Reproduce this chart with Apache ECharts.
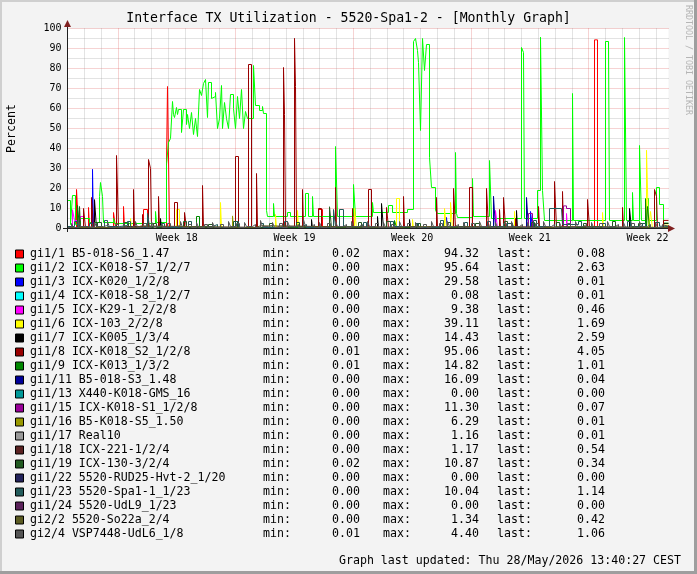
<!DOCTYPE html>
<html>
<head>
<meta charset="utf-8">
<script src="https://cdn.jsdelivr.net/npm/echarts@6/dist/echarts.min.js"></script>
<style>
  html, body { margin: 0; padding: 0; background: #f3f3f3; }
  #chart { width: 697px; height: 574px; }
</style>
</head>
<body>
<div id="chart"></div>
<script>
// x is the RRD step index of the monthly archive: 601 steps over 35.75 days
const totalSteps = 601
const totalDays = 35.75
const weekLines = [3, 10, 17, 24, 31]            // day index of each Monday
const weekLabels = { 13: 'Week 18', 27: 'Week 19', 41: 'Week 20', 55: 'Week 21', 69: 'Week 22' } // half-day index

const names = [
  'gi1/1 B5-018-S6_1.47', 'gi1/2 ICX-K018-S7_1/2/7', 'gi1/3 ICX-K020_1/2/8',
  'gi1/4 ICX-K018-S8_1/2/7', 'gi1/5 ICX-K29-1_2/2/8', 'gi1/6 ICX-103_2/2/8',
  'gi1/7 ICX-K005_1/3/4', 'gi1/8 ICX-K018_S2_1/2/8', 'gi1/9 ICX-K013_1/3/2',
  'gi1/11 B5-018-S3_1.48', 'gi1/13 X440-K018-GMS_16', 'gi1/15 ICX-K018-S1_1/2/8',
  'gi1/16 B5-K018-S5_1.50', 'gi1/17 Real10', 'gi1/18 ICX-221-1/2/4',
  'gi1/19 ICX-130-3/2/4', 'gi1/22 5520-RUD25-Hvt-2_1/20', 'gi1/23 5520-Spa1-1_1/23',
  'gi1/24 5520-UdL9_1/23', 'gi2/2 5520-So22a_2/4', 'gi2/4 VSP7448-UdL6_1/8'
]
const colors = [
  '#ff0000', '#00ff00', '#0000ff', '#00ffff', '#ff00ff', '#ffff00', '#000000',
  '#990000', '#008800', '#000099', '#009999', '#990099', '#999900', '#999999',
  '#5b2222', '#225b22', '#22225b', '#225b5b', '#5b225b', '#5b5b22', '#555555'
]
const minVals = [0.02, 0.00, 0.00, 0.00, 0.00, 0.00, 0.00, 0.01, 0.01, 0.00, 0.00,
  0.00, 0.00, 0.00, 0.00, 0.02, 0.00, 0.00, 0.00, 0.00, 0.01]
const maxVals = [94.32, 95.64, 29.58, 0.08, 9.38, 39.11, 14.43, 95.06, 14.82, 16.09, 0.00,
  11.30, 6.29, 1.16, 1.17, 10.87, 0.00, 10.04, 0.00, 1.34, 4.40]
const lastVals = [0.08, 2.63, 0.01, 0.01, 0.46, 1.69, 2.59, 4.05, 1.01, 0.04, 0.00,
  0.07, 0.01, 0.01, 0.54, 0.34, 0.00, 1.14, 0.00, 0.42, 1.06]

// [step, percent] change points, value holds until the next point
const gi1_1 = [[0,0.5],[9,19.5],[11,0.5],[21,10.5],[22,0.5],[46,8],[48,0.5],[56,11],[57,0.5],[76,9.5],[80,0.5],
  [99,32.5],[100,71],[102,0.5],[251,9.5],[255,0.5],[527,94.32],[530,0.5],[598,0.08],[601,0.08]]
const gi1_2 = [[0,14],[3,2],[5,16.5],[8,2],[13,5],[22,3],[32,16],[33,23],[35,16],[36,3],[46,5],[47,2.5],
  [88,8.5],[89,3],[99,32],[101,43],[103,45],[105,63.5],[106,57],[107,55.5],[109,60.5],[110,57],[111,59.5],
  [114,48],[116,59.5],[119,52],[120,57],[122,50],[124,58],[126,47],[128,55],[130,46],[132,69.5],[134,66.5],
  [136,72.5],[138,74.5],[140,55.5],[141,73],[144,65],[146,66],[148,68],[150,50],[152,55],[154,71.5],
  [155,50],[157,63],[159,55],[161,50],[163,67],[166,60],[168,50],[170,66],[172,55],[174,69.5],[176,50],
  [178,58.5],[180,55],[186,81.5],[188,61.5],[192,59],[195,61],[196,57.5],[199,9],[200,6],[206,12.5],
  [207,6],[220,8],[223,6],[238,17.5],[241,6],[245,16],[246,6],[268,41],[270,6],[286,22],[288,6],[305,13],
  [306,8],[321,11.5],[325,8],[340,9.5],[346,93.5],[348,95],[350,89],[351,83],[353,49],[355,95],[357,79],
  [359,92],[362,35.5],[364,20.5],[368,9],[370,7.5],[388,38],[389,7.5],[390,5.5],[405,25],[406,6],[422,34],
  [424,5],[454,90.5],[456,88],[457,5],[470,19],[473,95.64],[475,19],[477,4],[505,67.5],[506,4],[538,93.5],
  [541,93],[542,4],[557,95.5],[559,4],[565,18],[566,4],[572,41.5],[574,4],[578,15],[581,4],[589,20.5],
  [592,12],[596,2.63],[601,2.63]]
const gi1_3 = [[0,0],[25,29.58],[26,0],[379,5.5],[380,0],[463,8.5],[465,0],[601,0.01]]
const gi1_4 = [[0,0],[210,0.08],[212,0],[601,0.01]]
const gi1_5 = [[0,0],[5,9.38],[7,4],[13,6],[16,0],[428,9],[430,0],[499,7.5],[500,0],[596,0.46],[601,0.46]]
const gi1_6 = [[0,0],[63,5],[64,0],[109,9.5],[112,0],[153,13],[154,0],[208,7],[209,0],[230,9],[231,0],
  [287,10],[289,0],[329,15],[332,0],[345,4.5],[346,0],[377,10],[379,0],[383,13],[385,0],[447,8.5],[448,0],
  [535,8],[536,0],[579,39.11],[581,0],[583,8.5],[585,0],[596,1.69],[601,1.69]]
const gi1_7 = [[0,0],[27,14.43],[29,0],[93,5],[94,0],[244,4.5],[245,0],[310,6],[311,0],[314,12.5],[316,0],
  [342,4.5],[343,0],[449,9],[450,0],[562,10],[564,0],[596,2.59],[601,2.59]]
const gi1_8 = [[0,0.5],[16,10],[18,0.5],[24,15.5],[26,0.5],[49,36.5],[51,0.5],[66,19.5],[67,0.5],[75,7],
  [76,0.5],[81,34.5],[83,30],[84,0.5],[91,16],[92,0.5],[107,13],[110,0.5],[117,8],[119,0.5],[135,21.5],
  [136,0.5],[168,36],[171,0.5],[181,82],[184,0.5],[189,27.5],[190,0.5],[216,80.5],[217,57],[218,0.5],
  [227,95.06],[228,71],[229,0.5],[235,19.5],[236,0.5],[251,10],[254,0.5],[268,20.5],[269,0.5],[285,10],
  [286,0.5],[301,19.5],[304,0.5],[319,10.5],[321,0.5],[336,16],[337,0.5],[369,15.5],[370,0.5],[386,20],
  [388,0.5],[402,20.5],[405,0.5],[419,20],[421,0.5],[432,9.5],[433,0.5],[436,15.5],[438,0.5],[448,5],
  [449,0.5],[471,11],[472,0.5],[487,23.5],[489,0.5],[495,18.5],[496,0.5],[520,14.5],[522,0.5],[555,10.5],
  [556,0.5],[587,19.5],[589,16],[590,0.5],[596,4.05],[601,4.05]]
const gi1_9 = [[0,0.5],[10,11.5],[12,0.5],[129,6],[132,0.5],[327,4],[329,0.5],[578,14.82],[579,0.5],[580,11],
  [582,0.5],[596,1.01],[601,1.01]]
const gi1_11 = [[0,0],[426,16.09],[428,0],[459,15.5],[461,0],[601,0.04]]
const gi1_13 = [[0,0],[601,0]]
const gi1_15 = [[0,0],[461,7.5],[465,0],[496,11.3],[499,10],[503,0],[601,0.07]]
const gi1_16 = [[0,0],[165,6.29],[166,0],[412,3],[413,0],[601,0.01]]
const gi1_17 = [[0,0],[10,1],[15,0],[42,1],[47,0],[136,1.16],[140,0],[279,1],[284,0],[407,1],[411,0],
  [528,1],[533,0],[601,0.01]]
const gi1_18 = [[0,0.5],[54,1],[59,0.5],[208,1.17],[213,0.5],[358,1],[363,0.5],[595,0.54],[601,0.54]]
const gi1_19 = [[0,0.5],[12,11],[13,0.5],[30,3],[34,0.5],[57,3],[61,0.5],[86,2.5],[89,0.5],[116,3.5],[119,0.5],
  [141,2],[145,0.5],[166,3.5],[170,0.5],[202,2.5],[205,0.5],[229,3],[232,0.5],[262,10.87],[264,0.5],[291,3],
  [294,0.5],[319,3.5],[323,0.5],[350,2.5],[353,0.5],[380,3],[383,0.5],[408,2.5],[412,0.5],[437,3.5],
  [440,0.5],[464,3],[467,0.5],[489,3],[492,0.5],[516,2.5],[519,0.5],[545,3.5],[548,0.5],[571,2.5],
  [575,0.5],[596,0.34],[601,0.34]]
const gi1_22 = [[0,0],[601,0]]
const gi1_23 = [[0,1],[7,3.5],[10,1],[22,2.5],[25,0.5],[37,4],[40,1],[52,1.5],[60,3.5],[63,0.5],[80,7.5],
  [82,1],[94,2.5],[97,0.5],[121,3.5],[124,1],[145,2],[150,0.5],[168,3.5],[171,0.5],[193,2.5],[196,0.5],
  [217,3.5],[220,1],[235,2],[239,0.5],[266,9.5],[268,1],[272,9.5],[276,1],[296,3],[299,0.5],[323,3.5],
  [326,1],[348,2.5],[351,0.5],[373,4],[376,1],[397,3],[400,0.5],[420,3.5],[423,1],[440,2.5],[445,0.5],
  [466,4],[469,1],[482,10],[494,10.04],[495,2],[511,3.5],[514,1],[535,2.5],[538,0.5],[560,3.5],[563,1],
  [575,2.5],[578,0.5],[588,3],[592,1.14],[601,1.14]]
const gi1_24 = [[0,0],[601,0]]
const gi2_2 = [[0,0.5],[69,1.3],[74,0.5],[188,1.34],[193,0.5],[333,1],[338,0.5],[486,1],[491,0.5],[601,0.42]]
const gi2_4 = [[0,0.5],[4,2.5],[6,0.5],[11,3.5],[13,1],[19,2],[21,0.5],[27,3],[29,1],[36,1.5],[40,3.5],[42,0.5],
  [48,2],[51,0.5],[56,3],[58,0.5],[64,1.5],[68,3.5],[70,0.5],[76,2.5],[79,0.5],[84,3.5],[86,1],[92,2],
  [95,0.5],[100,2.5],[103,1],[109,1.5],[113,3.5],[115,0.5],[121,2],[124,0.5],[129,3],[131,0.5],[137,2],
  [140,0.5],[145,3],[147,0.5],[153,2],[156,0.5],[161,3.5],[163,1],[169,2.5],[172,0.5],[177,3],[179,1],
  [185,2],[188,0.5],[193,4],[195,1],[201,1.5],[205,3],[207,0.5],[212,2.5],[215,0.5],[220,3.5],[222,1],
  [228,2],[231,0.5],[236,4.4],[238,1],[244,2],[247,0.5],[252,3],[254,0.5],[260,2.5],[263,0.5],[268,3.5],
  [270,1],[276,2],[279,0.5],[284,3.5],[286,1],[292,2],[295,0.5],[300,3.5],[302,1],[308,2.5],[311,0.5],
  [316,3],[318,0.5],[324,2],[327,0.5],[332,3.5],[334,1],[340,2.5],[343,0.5],[348,3],[350,0.5],[356,2],
  [359,0.5],[364,3.5],[366,1],[372,2.5],[375,0.5],[380,3.5],[382,1],[388,2],[391,0.5],[396,3],[398,0.5],
  [404,2.5],[407,0.5],[412,3.5],[414,1],[420,2],[423,0.5],[428,3],[430,0.5],[436,2.5],[439,0.5],[444,3.5],
  [446,1],[452,2],[455,0.5],[460,3],[462,0.5],[468,2.5],[471,0.5],[476,3.5],[478,1],[484,2],[487,0.5],
  [492,3],[494,0.5],[500,2.5],[503,0.5],[508,3.5],[510,1],[516,2],[519,0.5],[524,3],[526,0.5],[532,2.5],
  [535,0.5],[540,3.5],[542,1],[548,2],[551,0.5],[556,3],[558,0.5],[564,2.5],[567,0.5],[572,3.5],[574,1],
  [580,2],[583,0.5],[588,3],[590,0.5],[595,2],[597,1.06],[601,1.06]]

const seriesData = [gi1_1, gi1_2, gi1_3, gi1_4, gi1_5, gi1_6, gi1_7, gi1_8, gi1_9, gi1_11, gi1_13,
  gi1_15, gi1_16, gi1_17, gi1_18, gi1_19, gi1_22, gi1_23, gi1_24, gi2_2, gi2_4]

const mono = 'DejaVu Sans Mono'
const minorGrid = 'rgba(143,143,143,0.5)'
const majorGrid = 'rgba(222,79,79,0.5)'
const stepsPerDay = totalSteps / totalDays

// one colour per day line, red on the week boundaries
const dayLineColors = []
for (let d = 0; d <= Math.ceil(totalDays); d++) {
  dayLineColors.push(weekLines.indexOf(d) >= 0 ? majorGrid : minorGrid)
}

const chart = echarts.init(document.getElementById('chart'))

// legend rows, drawn as text so the min/max/last columns line up
const legendItems = []
names.forEach((name, i) => {
  const y = 254 + i * 14
  const font = '11.6px ' + mono
  legendItems.push(
    { type: 'rect', shape: { x: 15.5, y: y - 4, width: 8, height: 8 },
      style: { fill: colors[i], stroke: '#000', lineWidth: 1 } },
    { type: 'text', x: 30, y: y, style: { text: name, font, fill: '#000', verticalAlign: 'middle' } },
    { type: 'text', x: 263, y: y, style: { text: 'min:', font, fill: '#000', verticalAlign: 'middle' } },
    { type: 'text', x: 360, y: y, style: { text: minVals[i].toFixed(2), font, fill: '#000', align: 'right', verticalAlign: 'middle' } },
    { type: 'text', x: 383, y: y, style: { text: 'max:', font, fill: '#000', verticalAlign: 'middle' } },
    { type: 'text', x: 479, y: y, style: { text: maxVals[i].toFixed(2), font, fill: '#000', align: 'right', verticalAlign: 'middle' } },
    { type: 'text', x: 497, y: y, style: { text: 'last:', font, fill: '#000', verticalAlign: 'middle' } },
    { type: 'text', x: 605, y: y, style: { text: lastVals[i].toFixed(2), font, fill: '#000', align: 'right', verticalAlign: 'middle' } }
  )
})

chart.setOption({
  backgroundColor: '#f3f3f3',
  animation: false,
  grid: {
    left: 67.5,
    top: 28.5,
    width: totalSteps,
    height: 200,
    show: true,
    backgroundColor: '#ffffff',
    borderWidth: 0,
    containLabel: false,
    outerBoundsMode: 'none'
  },
  xAxis: [
    {
      type: 'value',
      min: 0,
      max: totalSteps,
      interval: stepsPerDay,
      axisLine: { show: false },
      axisTick: { show: false },
      axisLabel: { show: false },
      splitLine: { show: true, showMaxLine: false, lineStyle: { color: dayLineColors, type: [1, 1], width: 1 } }
    },
    {
      type: 'value',
      min: 0,
      max: totalSteps,
      interval: stepsPerDay / 2,
      position: 'bottom',
      axisLine: { show: false },
      axisTick: { show: false },
      splitLine: { show: false },
      axisLabel: {
        show: true,
        margin: 5,
        color: '#000',
        fontFamily: mono,
        fontSize: 10,
        formatter: v => weekLabels[Math.round(v / (stepsPerDay / 2))] || ''
      }
    }
  ],
  yAxis: {
    type: 'value',
    min: 0,
    max: 100,
    interval: 10,
    name: 'Percent',
    nameLocation: 'middle',
    nameGap: 50,
    nameRotate: 90,
    nameTextStyle: { color: '#000', fontFamily: mono, fontSize: 11.6 },
    axisLine: { show: false },
    axisTick: { show: false },
    axisLabel: { color: '#000', fontFamily: mono, fontSize: 10, margin: 6 },
    splitLine: { show: true, lineStyle: { color: majorGrid, type: [1, 1], width: 1 } },
    minorTick: { show: false, splitNumber: 2 },
    minorSplitLine: { show: true, lineStyle: { color: minorGrid, type: [1, 1], width: 1 } }
  },
  series: seriesData.map((data, i) => ({
    name: names[i],
    type: 'line',
    step: 'end',
    data: data,
    xAxisIndex: 0,
    symbol: 'none',
    silent: true,
    z: 2 + i * 0.01,
    lineStyle: { color: colors[i], width: 1 }
  })),
  graphic: [
    // frame shading
    { type: 'rect', shape: { x: 0, y: 0, width: 697, height: 2 }, style: { fill: '#cfcfcf' } },
    { type: 'rect', shape: { x: 0, y: 0, width: 2, height: 574 }, style: { fill: '#cfcfcf' } },
    { type: 'rect', shape: { x: 0, y: 571, width: 697, height: 3 }, style: { fill: '#9e9e9e' } },
    { type: 'rect', shape: { x: 694, y: 0, width: 3, height: 574 }, style: { fill: '#9e9e9e' } },
    // axes with arrows
    { type: 'line', shape: { x1: 67.5, y1: 232, x2: 67.5, y2: 24 }, style: { stroke: '#1f1f1f', lineWidth: 1 }, z: 10 },
    { type: 'line', shape: { x1: 63, y1: 228.5, x2: 670, y2: 228.5 }, style: { stroke: '#1f1f1f', lineWidth: 1 }, z: 10 },
    { type: 'polygon', shape: { points: [[67.5, 20], [64, 27], [71, 27]] }, style: { fill: '#802020' }, z: 11 },
    { type: 'polygon', shape: { points: [[675, 228.5], [668, 225], [668, 232]] }, style: { fill: '#802020' }, z: 11 },
    { type: 'text', x: 348.5, y: 19,
      style: { text: 'Interface TX Utilization - 5520-Spa1-2 - [Monthly Graph]', font: '13.2px ' + mono,
        fill: '#000', align: 'center', verticalAlign: 'middle' } },
    { type: 'text', x: 688, y: 5, rotation: -Math.PI / 2,
      style: { text: 'RRDTOOL / TOBI OETIKER', font: '8.3px ' + mono, fill: '#b5b5b5', verticalAlign: 'middle' } },
    { type: 'text', x: 681, y: 561,
      style: { text: 'Graph last updated: Thu 28/May/2026 13:40:27 CEST', font: '11.6px ' + mono,
        fill: '#000', align: 'right', verticalAlign: 'middle' } }
  ].concat(legendItems)
})
</script>
</body>
</html>
